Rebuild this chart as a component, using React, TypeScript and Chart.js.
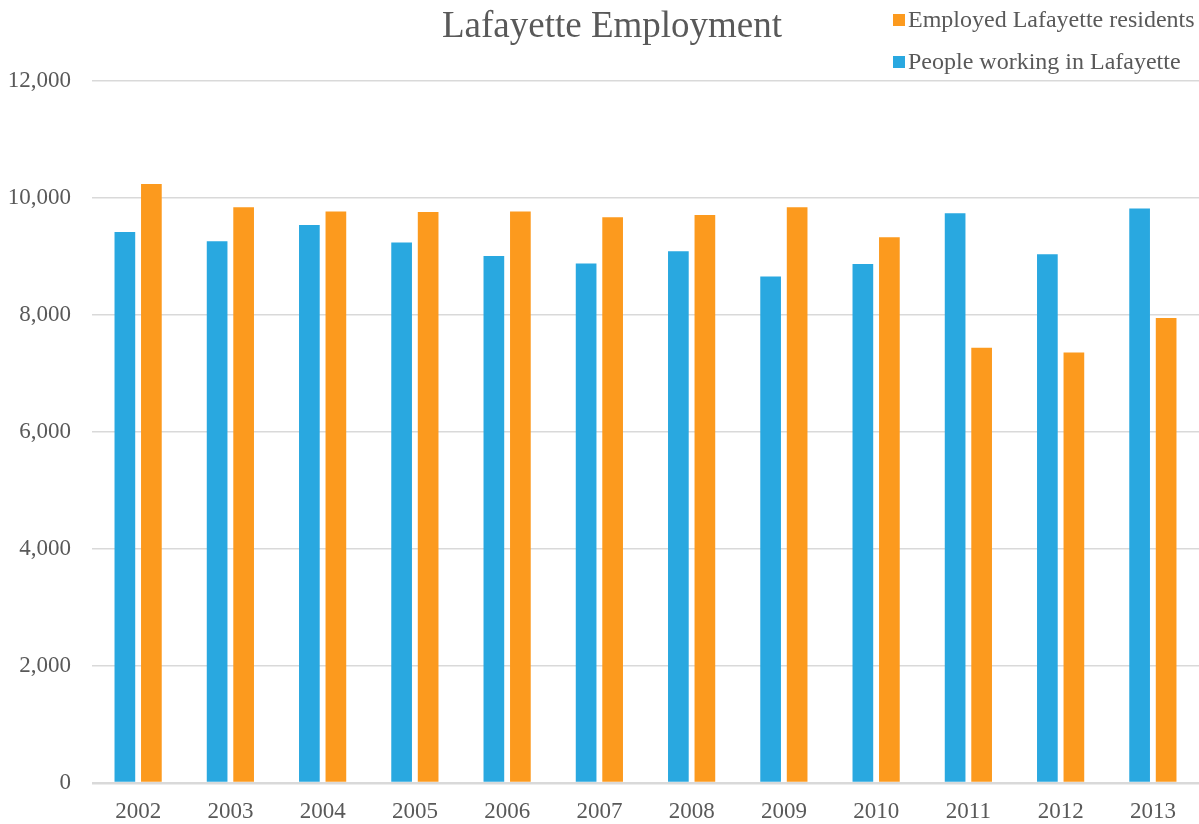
import React, { useEffect, useRef } from "react";
import { Chart, registerables } from "chart.js";

Chart.register(...registerables);

const categories = ["2002", "2003", "2004", "2005", "2006", "2007", "2008", "2009", "2010", "2011", "2012", "2013"];
const peopleWorking = [9420, 9260, 9540, 9240, 9010, 8880, 9090, 8660, 8870, 9740, 9040, 9820];
const employedResidents = [10240, 9840, 9770, 9760, 9770, 9670, 9710, 9840, 9330, 7440, 7360, 7950];
const yTicks = [0, 2000, 4000, 6000, 8000, 10000, 12000];

const titleText = "Lafayette Employment";
const seriesNames = ["People working in Lafayette", "Employed Lafayette residents"];
const seriesColors = ["#29A8E0", "#FC9A1E"];

const FONT = "'Liberation Serif', 'Times New Roman', serif";
const TEXT = "#595959";

const overlayPlugin = {
  id: "overlay",
  afterDraw(chart: any) {
    const ctx = chart.ctx;
    ctx.save();
    ctx.fillStyle = TEXT;
    ctx.font = `37px ${FONT}`;
    ctx.textAlign = "center";
    ctx.textBaseline = "alphabetic";
    ctx.fillText(titleText, 612, 37);
    // legend: reverse order (orange first)
    const ds = chart.data.datasets;
    const order = [1, 0];
    ctx.font = `24px ${FONT}`;
    ctx.textAlign = "left";
    order.forEach((di, row) => {
      const baseY = 27 + row * 42;
      ctx.fillStyle = ds[di].backgroundColor;
      ctx.fillRect(893, baseY - 13, 12, 12);
      ctx.fillStyle = TEXT;
      ctx.fillText(ds[di].label, 908, baseY);
    });
    ctx.restore();
  },
};

export default function App() {
  const ref = useRef<HTMLCanvasElement>(null);
  useEffect(() => {
    if (!ref.current) return;
    const chart = new Chart(ref.current, {
      type: "bar",
      data: {
        labels: categories,
        datasets: [
          {
            label: seriesNames[0],
            data: peopleWorking,
            backgroundColor: seriesColors[0],
            borderWidth: 0,
            categoryPercentage: 0.575,
            barPercentage: 0.78,
          },
          {
            label: seriesNames[1],
            data: employedResidents,
            backgroundColor: seriesColors[1],
            borderWidth: 0,
            categoryPercentage: 0.575,
            barPercentage: 0.78,
          },
        ],
      },
      options: {
        responsive: false,
        animation: false,
        devicePixelRatio: 1,
        layout: { padding: { top: 81, right: 0, bottom: 0, left: 0 } },
        plugins: {
          legend: { display: false },
          title: { display: false },
          tooltip: { enabled: false },
        },
        scales: {
          x: {
            grid: { display: false, drawTicks: false },
            border: { display: false },
            ticks: {
              color: TEXT,
              font: { family: FONT, size: 23 },
              padding: 15,
              maxRotation: 0,
            },
            afterFit(scale: any) {
              scale.height = 41;
            },
          },
          y: {
            min: 0,
            max: 12000,
            afterBuildTicks(scale: any) {
              scale.ticks = yTicks.map((v) => ({ value: v }));
            },
            grid: {
              color: "#d9d9d9",
              lineWidth: (c: any) => (c.tick && c.tick.value === 0 ? 2.5 : 1.5),
              drawTicks: false,
            },
            border: { display: false },
            ticks: {
              color: TEXT,
              font: { family: FONT, size: 23 },
              padding: 21,
              callback: (v: any) => Number(v).toLocaleString("en-US"),
            },
            afterFit(scale: any) {
              scale.width = 92;
            },
          },
        },
      },
      plugins: [overlayPlugin],
    });
    return () => chart.destroy();
  }, []);
  return (
    <div style={{ position: "absolute", left: 0, top: 0, width: 1199, height: 824, background: "#fff" }}>
      <canvas ref={ref} width={1199} height={824} />
    </div>
  );
}
